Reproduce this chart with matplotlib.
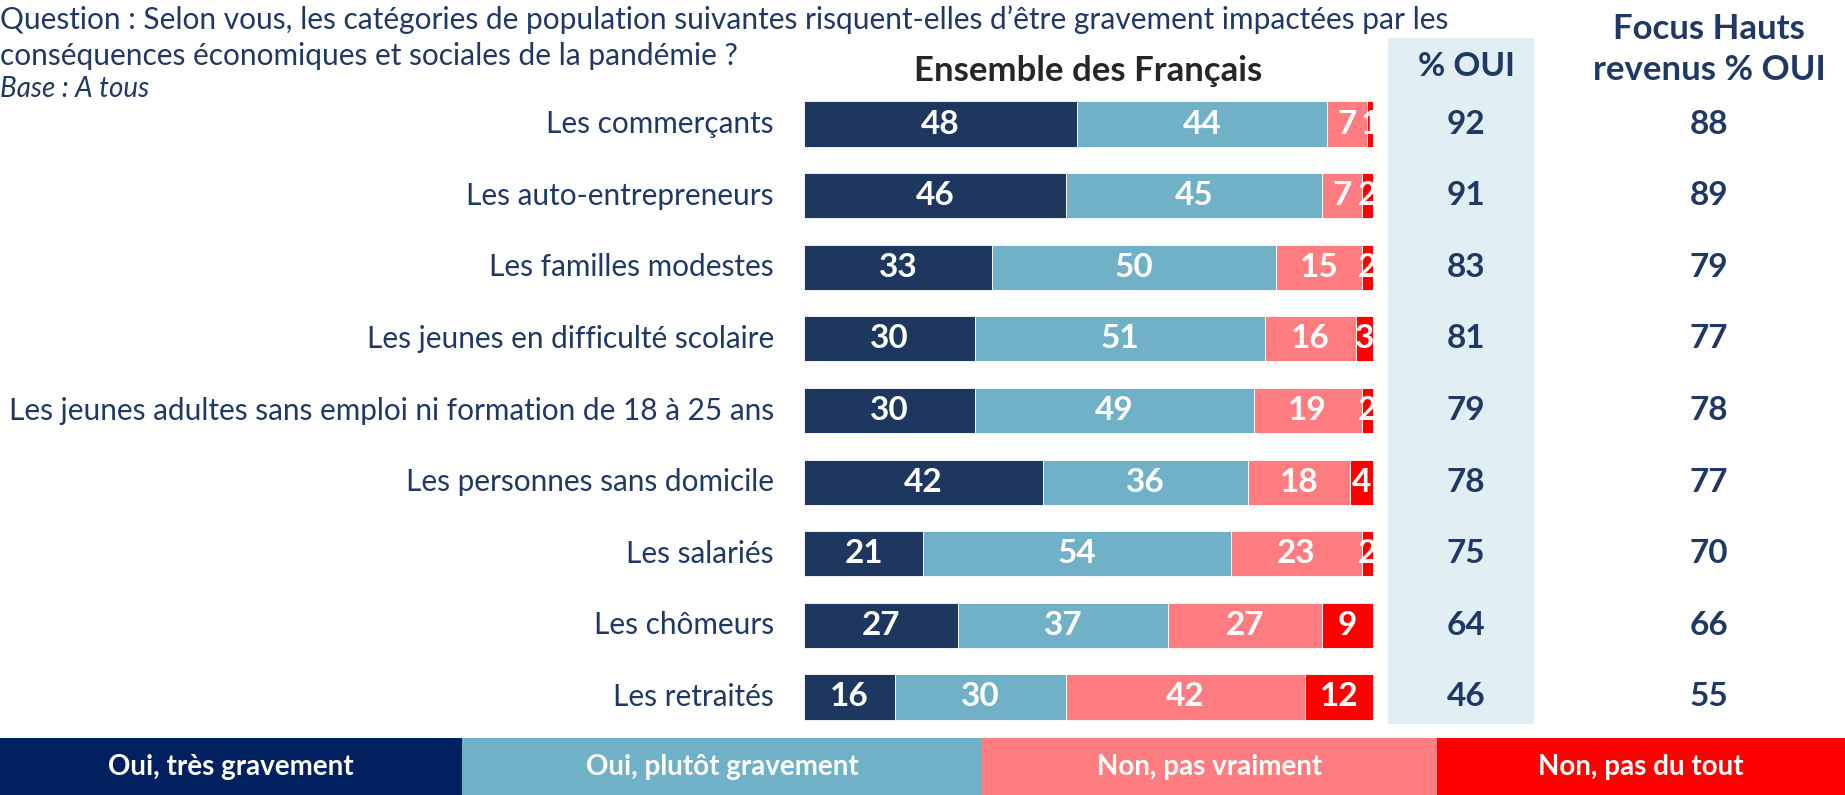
import numpy as np
import matplotlib.pyplot as plt
from matplotlib.patches import Rectangle

plt.rcParams['font.family'] = ['Lato', 'DejaVu Sans']

categories = [
    "Les commerçants",
    "Les auto-entrepreneurs",
    "Les familles modestes",
    "Les jeunes en difficulté scolaire",
    "Les jeunes adultes sans emploi ni formation de 18 à 25 ans",
    "Les personnes sans domicile",
    "Les salariés",
    "Les chômeurs",
    "Les retraités",
]
tres_grav = [48, 46, 33, 30, 30, 42, 21, 27, 16]
plutot_grav = [44, 45, 50, 51, 49, 36, 54, 37, 30]
pas_vraiment = [7, 7, 15, 16, 19, 18, 23, 27, 42]
pas_du_tout = [1, 2, 2, 3, 2, 4, 2, 9, 12]
pct_oui = [92, 91, 83, 81, 79, 78, 75, 64, 46]
focus_oui = [88, 89, 79, 77, 78, 77, 70, 66, 55]

series_names = ["Oui, très gravement", "Oui, plutôt gravement",
                "Non, pas vraiment", "Non, pas du tout"]
bar_colors = ['#1d375e', '#71b1c8', '#ff7c80', '#ff0000']
legend_colors = ['#002060', '#71b1c8', '#ff7c80', '#ff0000']
navy = '#1f3864'

W, H = 1845, 795
fig = plt.figure(figsize=(W / 100, H / 100), dpi=100)

# main axes: bars + value columns
ax_left, ax_right = 804, 1845
ax_top, ax_bottom = 38, 724
ax = fig.add_axes([ax_left / W, 1 - ax_bottom / H,
                   (ax_right - ax_left) / W, (ax_bottom - ax_top) / H])
px_per_unit = 569 / 100
row_px = 71.6
ax.set_xlim(0, (ax_right - ax_left) / px_per_unit)
ax.set_ylim(8 + (ax_bottom - 697) / row_px, -(124 - ax_top) / row_px)
ax.axis('off')

y = np.arange(len(categories))
col_oui_x = (1466 - ax_left) / px_per_unit
col_focus_x = (1709 - ax_left) / px_per_unit

# shaded % OUI column
ax.add_patch(Rectangle(((1388 - ax_left) / px_per_unit, ax.get_ylim()[1]),
                       (1534 - 1388) / px_per_unit,
                       ax.get_ylim()[0] - ax.get_ylim()[1],
                       facecolor='#e1eff4', edgecolor='none', zorder=0))

left = np.zeros(len(categories))
for vals, col in zip([tres_grav, plutot_grav, pas_vraiment, pas_du_tout], bar_colors):
    vals = np.array(vals)
    ax.barh(y, vals, left=left, height=0.63, color=col,
            edgecolor='white', linewidth=0.6, zorder=2)
    for yi, l, v in zip(y, left, vals):
        ax.text(l + v / 2, yi, str(v), ha='center', va='center',
                color='white', fontsize=24, fontweight='bold', zorder=3)
    left += vals

for yi, cat, a, b in zip(y, categories, pct_oui, focus_oui):
    ax.text(-(804 - 774) / px_per_unit, yi, cat, ha='right', va='center',
            color=navy, fontsize=21.4, clip_on=False)
    ax.text(col_oui_x, yi, str(a), ha='center', va='center',
            color=navy, fontsize=24, fontweight='bold')
    ax.text(col_focus_x, yi, str(b), ha='center', va='center',
            color=navy, fontsize=24, fontweight='bold')

ax.text(50, -0.74, "Ensemble des Français", ha='center', va='center',
        color='#262626', fontsize=25, fontweight='bold', clip_on=False)
ax.text(col_oui_x, -0.80, "% OUI", ha='center', va='center',
        color=navy, fontsize=24, fontweight='bold', clip_on=False)
ax.text(col_focus_x, -1.04, "Focus Hauts\nrevenus % OUI", ha='center',
        va='center', color=navy, fontsize=25, fontweight='bold',
        linespacing=1.35, clip_on=False)

# question header
fig.text(0, 1 - 20 / H, "Question : Selon vous, les catégories de population suivantes "
         "risquent-elles d\u2019être gravement impactées par les",
         ha='left', va='center', color=navy, fontsize=21.5)
fig.text(0, 1 - 56 / H, "conséquences économiques et sociales de la pandémie ?",
         ha='left', va='center', color=navy, fontsize=21.5)
fig.text(0, 1 - 89 / H, "Base : A tous", ha='left', va='center',
         color=navy, fontsize=20, style='italic')

# legend band
lax = fig.add_axes([0, 0, 1, 57 / H])
lax.set_xlim(0, W)
lax.set_ylim(0, 1)
lax.axis('off')
bounds = [0, 462, 982, 1437, 1845]
for i, (name, col) in enumerate(zip(series_names, legend_colors)):
    lax.axvspan(bounds[i], bounds[i + 1], color=col, lw=0)
    lax.text((bounds[i] + bounds[i + 1]) / 2, 0.5, name, ha='center',
             va='center', color='white', fontsize=20, fontweight='bold')

fig.savefig('out.png', dpi=100)
